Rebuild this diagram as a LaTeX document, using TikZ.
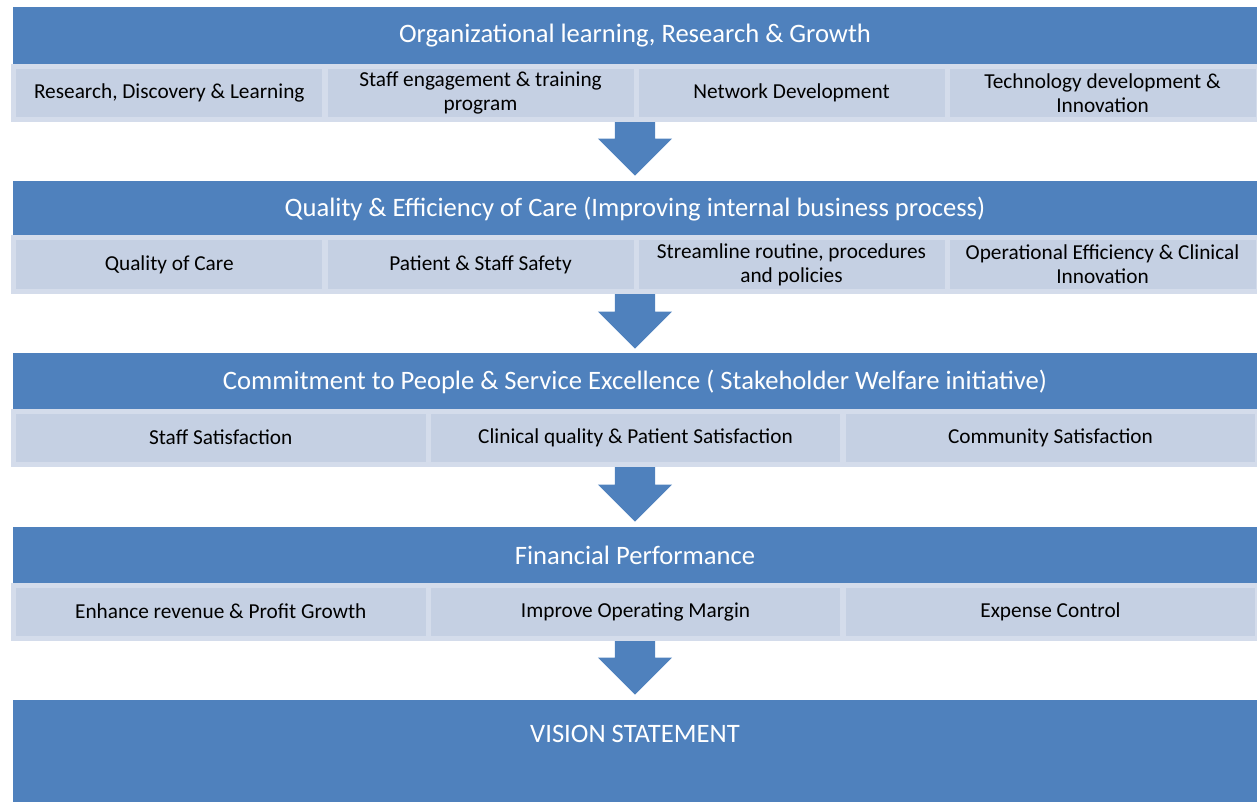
\documentclass[tikz,border=0pt]{standalone}
\usepackage{fontspec}
\setmainfont{Carlito}
\usetikzlibrary{shapes.arrows}
\definecolor{bandblue}{RGB}{79,129,189}
\definecolor{cellfill}{RGB}{197,208,227}
\definecolor{cellrim}{RGB}{212,220,235}
\begin{document}
\begin{tikzpicture}[x=1pt,y=-1pt,
  band/.style={fill=bandblue, draw=none, text=white, minimum width=1244pt, inner sep=0pt,
    font=\fontsize{26.6}{32}\selectfont},
  cell/.style={fill=cellfill, draw=cellrim, line width=5pt, minimum height=53pt, inner sep=0pt,
    align=center, text=black, font=\fontsize{21.3}{24}\selectfont},
  flow/.style={single arrow, fill=bandblue, draw=none, shape border rotate=270,
    minimum height=56pt, inner sep=20pt, single arrow head extend=17pt,
    single arrow tip angle=90, anchor=tip}
]
\useasboundingbox (0,0) rectangle (1257,802);

% block arrows between the tiers, placed by their tips
\node[flow] (a1) at (635,176) {};
\node[flow] (a2) at (635,349) {};
\node[flow] (a3) at (635,522) {};
\node[flow] (a4) at (635,695) {};

% tier 1
\node[band, minimum height=57pt] (h1) at (635,35.5) {Organizational learning, Research \& Growth};
\node[cell, minimum width=311pt] (c11) at (169.25,93) {Research, Discovery \& Learning};
\node[cell, minimum width=311pt] (c12) at (480.5,93) {Staff engagement \& training\\program};
\node[cell, minimum width=311pt] (c13) at (791.5,93) {Network Development};
\node[cell, minimum width=311pt] (c14) at (1102.5,93) {Technology development \&\\Innovation};

% tier 2
\node[band, minimum height=56pt] (h2) at (635,209) {Quality \& Efficiency of Care (Improving internal business process)};
\node[cell, minimum width=311pt] (c21) at (169.25,264.5) {Quality of Care};
\node[cell, minimum width=311pt] (c22) at (480.5,264.5) {Patient \& Staff Safety};
\node[cell, minimum width=311pt] (c23) at (791.5,264.5) {Streamline routine, procedures\\and policies};
\node[cell, minimum width=311pt] (c24) at (1102.5,264.5) {Operational Efficiency \& Clinical\\Innovation};

% tier 3
\node[band, minimum height=57pt] (h3) at (635,381.5) {Commitment to People \& Service Excellence ( Stakeholder Welfare initiative)};
\node[cell, minimum width=414.5pt] (c31) at (220.75,437.5) {Staff Satisfaction};
\node[cell, minimum width=414.5pt] (c32) at (635.5,437.5) {Clinical quality \& Patient Satisfaction};
\node[cell, minimum width=414.5pt] (c33) at (1050.5,437.5) {Community Satisfaction};

% tier 4
\node[band, minimum height=57pt] (h4) at (635,555.5) {Financial Performance};
\node[cell, minimum width=414.5pt] (c41) at (220.75,611.5) {Enhance revenue \& Profit Growth};
\node[cell, minimum width=414.5pt] (c42) at (635.5,611.5) {Improve Operating Margin};
\node[cell, minimum width=414.5pt] (c43) at (1050.5,611.5) {Expense Control};

% vision block
\node[band, minimum height=102pt] (vision) at (635,751) {};
\node[text=white, inner sep=0pt, font=\fontsize{26.6}{32}\selectfont] (visiontext) at (635,734) {VISION STATEMENT};
\end{tikzpicture}
\end{document}
